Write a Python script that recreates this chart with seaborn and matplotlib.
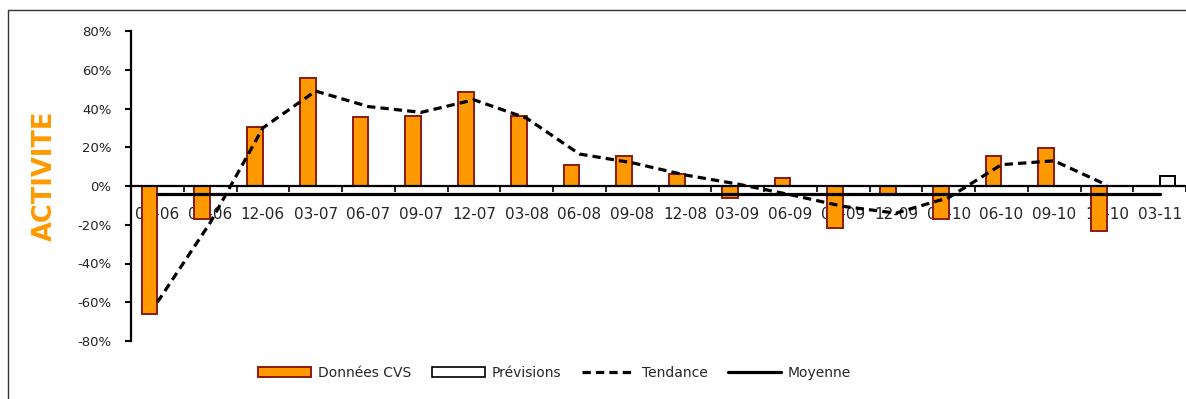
import numpy as np
import pandas as pd
import matplotlib
matplotlib.use("Agg")
import matplotlib.pyplot as plt
from matplotlib.patches import Patch
from matplotlib.lines import Line2D
import seaborn as sns

# Chart data
periods = ["06-06", "09-06", "12-06", "03-07", "06-07", "09-07", "12-07", "03-08",
           "06-08", "09-08", "12-08", "03-09", "06-09", "09-09", "12-09", "03-10",
           "06-10", "09-10", "12-10", "03-11"]
cvs = [-66, -17, 30.5, 55.5, 35.5, 36, 48.5, 36, 11, 15.5, 6, -6, 4.3, -21.5,
       -4, -17, 15.5, 19.5, -23, np.nan]
previsions = [np.nan] * 19 + [5]
tendance = [-60, -19, 30, 49, 41, 38, 44.5, 35, 16.5, 12, 5.7, 1, -4.5, -10.5,
            -14, -6, 11, 13, 0.5, np.nan]
moyenne = -4.2
yticks = [-80, -60, -40, -20, 0, 20, 40, 60, 80]

ORANGE = "#FF9900"
EDGE = "#8B1A10"

sns.set_theme(style="white")
plt.rcParams["font.family"] = ["DejaVu Sans"]

# long table for the dodged bar series
bars = pd.DataFrame({
    "periode": periods * 2,
    "serie": ["Données CVS"] * len(periods) + ["Prévisions"] * len(periods),
    "valeur": cvs + previsions,
}).dropna()

fig = plt.figure(figsize=(11.86, 3.99), dpi=100)
ax = fig.add_axes([131 / 1186, 1 - 341 / 399, 1 - 131 / 1186, (341 - 31) / 399])

sns.barplot(data=bars, x="periode", y="valeur", hue="serie", order=periods,
            hue_order=["Données CVS", "Prévisions"],
            palette={"Données CVS": ORANGE, "Prévisions": "white"},
            dodge=True, saturation=1, width=0.6, linewidth=1.4, legend=False,
            ax=ax, zorder=1)
for cont, ec in zip(ax.containers, [EDGE, "black"]):
    for p in cont:
        p.set_edgecolor(ec)

idx = np.arange(len(periods))
sns.lineplot(x=idx, y=np.full(len(periods), moyenne), color="black", lw=2.3,
             ax=ax, zorder=3)
sns.lineplot(x=idx, y=tendance, color="black", lw=2.3, ax=ax, zorder=4)
ax.lines[-1].set_dashes([2.6, 1.6])

ax.set_ylim(-80, 80)
ax.set_xlim(-0.5, 19.48)
ax.set_yticks(yticks)
ax.set_yticklabels([f"{v}%" for v in yticks], fontsize=9.5, color="#222222")
ax.set_xticks(idx)
ax.set_xticklabels(periods, fontsize=8.5, color="#222222")
ax.set_xticks(np.arange(len(periods) + 1) - 0.5, minor=True)
ax.tick_params(axis="x", which="major", length=0, pad=15)
ax.tick_params(axis="x", which="minor", direction="out", length=4, width=1.2,
               color="black", bottom=True)
ax.tick_params(axis="y", direction="out", length=4, width=1.5, color="black",
               left=True, pad=10)
ax.set_xlabel("")
ax.set_ylabel("")

for s in ["top", "right"]:
    ax.spines[s].set_visible(False)
ax.spines["left"].set_linewidth(1.6)
ax.spines["left"].set_color("black")
ax.spines["bottom"].set_position(("data", 0))
ax.spines["bottom"].set_linewidth(1.6)
ax.spines["bottom"].set_color("black")
ax.spines["bottom"].set_zorder(2.5)

fig.text(45 / 1186, 1 - 176 / 399, "ACTIVITE", rotation=90, color=ORANGE,
         fontsize=18.5, fontweight="bold", ha="center", va="center")

# outer chart border (left and top visible in the reference)
fig.add_artist(Line2D([8 / 1186, 8 / 1186], [0, 1 - 10 / 399], color="#333333", lw=1))
fig.add_artist(Line2D([8 / 1186, 1], [1 - 10 / 399, 1 - 10 / 399], color="#333333", lw=1))

handles = [
    Patch(facecolor=ORANGE, edgecolor=EDGE, linewidth=1.4, label="Données CVS"),
    Patch(facecolor="white", edgecolor="black", linewidth=1.2, label="Prévisions"),
    Line2D([], [], color="black", lw=2.3, dashes=[2.6, 1.6], label="Tendance"),
    Line2D([], [], color="black", lw=2.3, label="Moyenne"),
]
fig.legend(handles=handles, loc="center", bbox_to_anchor=(0.4676, 0.065), ncol=4,
           frameon=False, fontsize=10, handlelength=3.8, handletextpad=0.5,
           columnspacing=1.5)

fig.savefig("out.png", dpi=100)
